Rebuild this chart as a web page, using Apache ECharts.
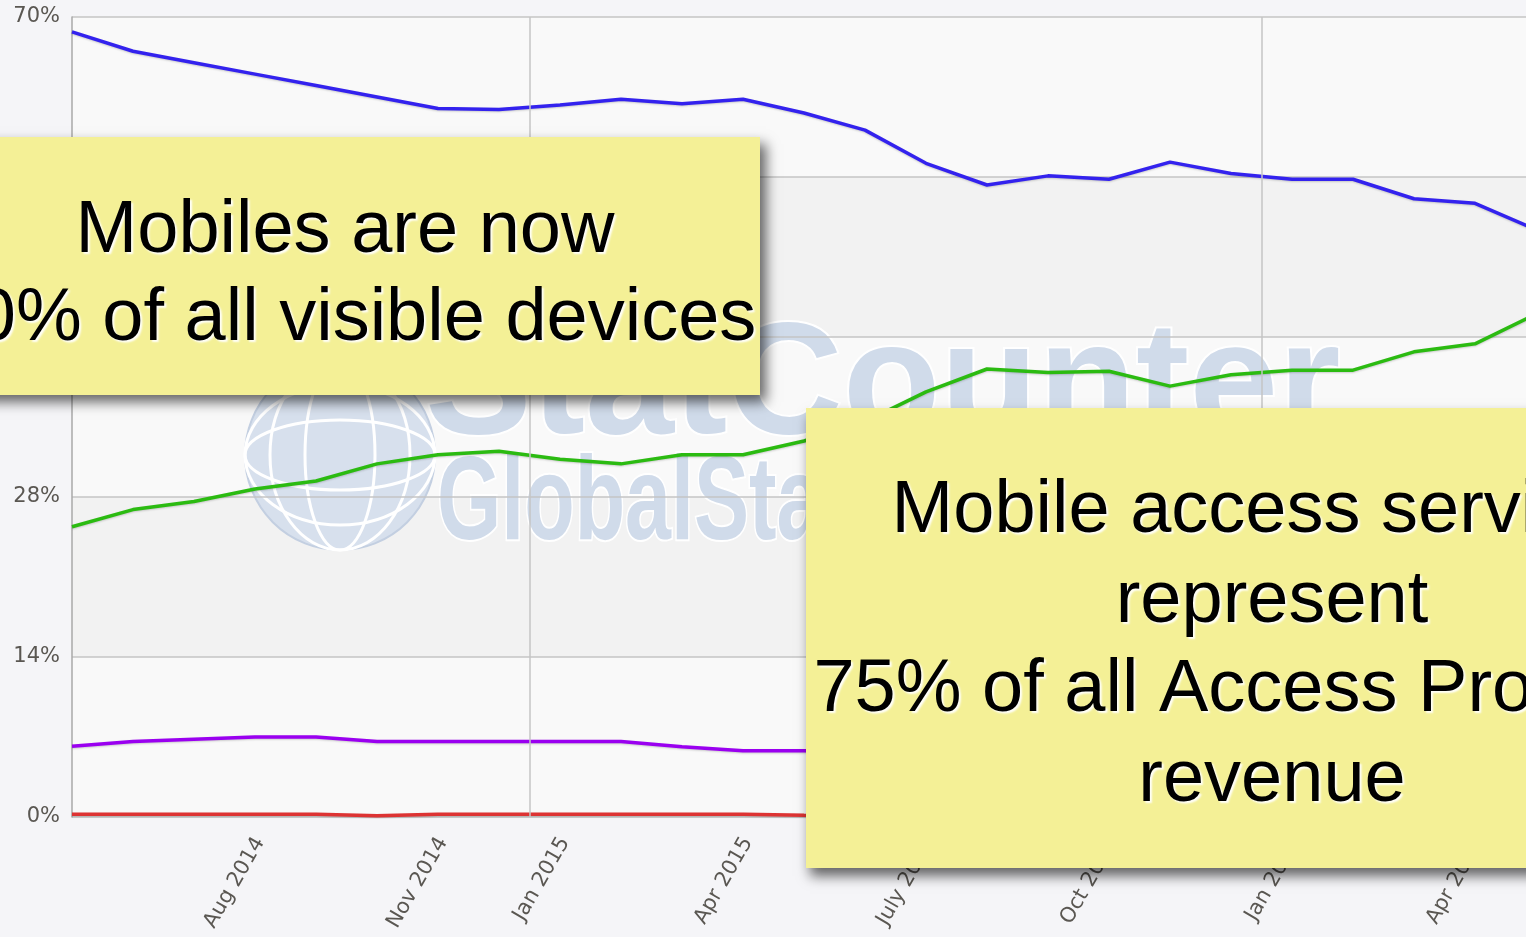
<!DOCTYPE html>
<html><head><meta charset="utf-8">
<script src="https://cdn.jsdelivr.net/npm/echarts@6/dist/echarts.min.js"></script>
<style>html,body{margin:0;padding:0;background:#f5f5f8;overflow:hidden}#c{width:1536px;height:937px;}</style>
</head><body><div id="c"></div>
<script>
// ---- data ----
const months = ['May 2014','June 2014','July 2014','Aug 2014','Sept 2014','Oct 2014','Nov 2014','Dec 2014',
  'Jan 2015','Feb 2015','Mar 2015','Apr 2015','May 2015','June 2015','July 2015','Aug 2015','Sept 2015','Oct 2015','Nov 2015','Dec 2015',
  'Jan 2016','Feb 2016','Mar 2016','Apr 2016','May 2016'];
const tickLabels = ['Aug 2014','Nov 2014','Jan 2015','Apr 2015','July 2015','Oct 2015','Jan 2016','Apr 2016'];
const yearStarts = ['Jan 2015','Jan 2016'];
const desktop = [68.7,67.0,66.0,65.0,64.0,63.0,62.0,61.9,62.3,62.8,62.4,62.8,61.6,60.1,57.2,55.3,56.1,55.8,57.3,56.3,55.8,55.8,54.1,53.7,51.4];
const mobile  = [25.4,26.9,27.6,28.7,29.4,30.9,31.7,32.0,31.3,30.9,31.7,31.7,32.9,34.6,37.2,39.2,38.9,39.0,37.7,38.7,39.1,39.1,40.7,41.4,44.0];
const tablet  = [6.2,6.6,6.8,7.0,7.0,6.6,6.6,6.6,6.6,6.6,6.15,5.8,5.8,5.7,5.5,5.4,5.3,5.2,5.1,5.0,4.9,4.8,4.7,4.6,4.5];
const consoleShare = [0.25,0.25,0.25,0.25,0.25,0.1,0.25,0.25,0.25,0.25,0.25,0.25,0.15,0.1,0.1,0.1,0.1,0.1,0.1,0.1,0.1,0.1,0.1,0.1,0.1];
const note1 = ['Mobiles are now', '70% of all visible devices'];
const note2 = ['Mobile access services', 'represent', '75% of all Access Providers', 'revenue'];
const watermark = ['StatCounter', 'GlobalStats'];

// ---- chart ----
const labelShift = 0.08;
const pts = arr => arr.map((v, i) => [i, v]);
const lineStyle = c => ({ color: c, width: 3.5, shadowColor: 'rgba(0,0,0,0.18)', shadowBlur: 2, shadowOffsetY: 1 });
const mk = (name, data, color) => ({
  name, type: 'line', data: pts(data), symbol: 'none', z: 3,
  lineStyle: lineStyle(color), itemStyle: { color }
});

const chart = echarts.init(document.getElementById('c'), null, { renderer: 'canvas' });
const noteText = (lines, cx, y0, lh) => lines.map((t, i) => ({
  type: 'text', z: 20, x: cx, y: y0 + i * lh,
  style: { text: t, font: '74px "Liberation Sans", Arial, sans-serif', fill: '#000',
    align: 'center', verticalAlign: 'middle',
    textShadowColor: 'rgba(255,255,255,0.95)', textShadowBlur: 2, textShadowOffsetX: 2, textShadowOffsetY: 2 }
}));

const option = {
  animation: false,
  backgroundColor: '#f5f5f8',
  grid: { left: 72, top: 17, bottom: 120, right: 0 },
  xAxis: {
    type: 'value', min: 0, max: months.length - 1, z: 2,
    axisLine: { show: false }, axisTick: { show: false }, splitLine: { show: false },
    axisLabel: {
      customValues: tickLabels.map(l => months.indexOf(l) + labelShift),
      formatter: v => months[Math.round(v - labelShift)],
      rotate: 60, margin: 22, color: '#5a5752',
      fontFamily: '"DejaVu Sans", sans-serif', fontSize: 21
    }
  },
  yAxis: [{
    type: 'value', min: 0, max: 70, interval: 14, z: 2,
    axisLine: { show: true, lineStyle: { color: '#a8a8a8', width: 1.5 } },
    axisTick: { show: false },
    splitLine: { show: true, lineStyle: { color: '#c4c4c4', width: 1.5 } },
    axisLabel: { formatter: '{value}%', margin: 12, color: '#5a5752', fontFamily: '"DejaVu Sans", sans-serif', fontSize: 21 }
  }, {
    type: 'value', min: 0, max: 70, interval: 14, z: 0, position: 'right',
    axisLine: { show: false }, axisTick: { show: false }, axisLabel: { show: false },
    splitLine: { show: false },
    splitArea: { show: true, areaStyle: { color: ['#f9f9f9', '#f2f2f2'] } }
  }],
  series: [
    {
      type: 'line', data: [], z: 2, silent: true,
      markLine: {
        silent: true, symbol: 'none', label: { show: false },
        lineStyle: { color: '#c4c4c4', type: 'solid', width: 1.5 },
        data: yearStarts.map(m => ({ xAxis: months.indexOf(m) - 0.5 }))
      }
    },
    mk('Desktop', desktop, '#3322ee'),
    mk('Mobile', mobile, '#2bbb11'),
    mk('Tablet', tablet, '#9a00f0'),
    mk('Console', consoleShare, '#dd3333')
  ],
  graphic: { elements: [
    // watermark
    { type: 'circle', z: 1, shape: { cx: 340, cy: 455, r: 95 }, style: { fill: '#d7e0ed', stroke: '#c3cfe1', lineWidth: 2 } },
    { type: 'ellipse', z: 1, shape: { cx: 340, cy: 455, rx: 35, ry: 95 }, style: { fill: 'none', stroke: '#ffffff', lineWidth: 3 } },
    { type: 'ellipse', z: 1, shape: { cx: 340, cy: 455, rx: 70, ry: 95 }, style: { fill: 'none', stroke: '#ffffff', lineWidth: 3 } },
    { type: 'ellipse', z: 1, shape: { cx: 340, cy: 455, rx: 95, ry: 35 }, style: { fill: 'none', stroke: '#ffffff', lineWidth: 3 } },
    { type: 'ellipse', z: 1, shape: { cx: 340, cy: 455, rx: 95, ry: 70 }, style: { fill: 'none', stroke: '#ffffff', lineWidth: 3 } },
    { type: 'text', z: 1, x: 425, y: 389, style: { text: watermark[0], font: 'bold 160px "Liberation Sans", Arial, sans-serif', fill: '#d0dbea', stroke: '#ffffff', lineWidth: 4, align: 'left', verticalAlign: 'middle' } },
    { type: 'text', z: 1, x: 437, y: 506, scaleX: 0.7, style: { text: watermark[1], font: 'bold 118px "Liberation Sans", Arial, sans-serif', fill: '#d0dbea', stroke: '#ffffff', lineWidth: 4, align: 'left', verticalAlign: 'middle' } },
    // note boxes
    { type: 'rect', z: 19, shape: { x: -70, y: 137, width: 830, height: 258 },
      style: { fill: '#f4f096', shadowColor: 'rgba(0,0,0,0.6)', shadowBlur: 12, shadowOffsetX: 6, shadowOffsetY: 7 } },
    ...noteText(note1, 345, 232, 88),
    { type: 'rect', z: 19, shape: { x: 806, y: 408, width: 940, height: 460 },
      style: { fill: '#f4f096', shadowColor: 'rgba(0,0,0,0.6)', shadowBlur: 12, shadowOffsetX: 4, shadowOffsetY: 8 } },
    ...noteText(note2, 1272, 512, 89.5)
  ] }
};
chart.setOption(option);
</script>
</body></html>
